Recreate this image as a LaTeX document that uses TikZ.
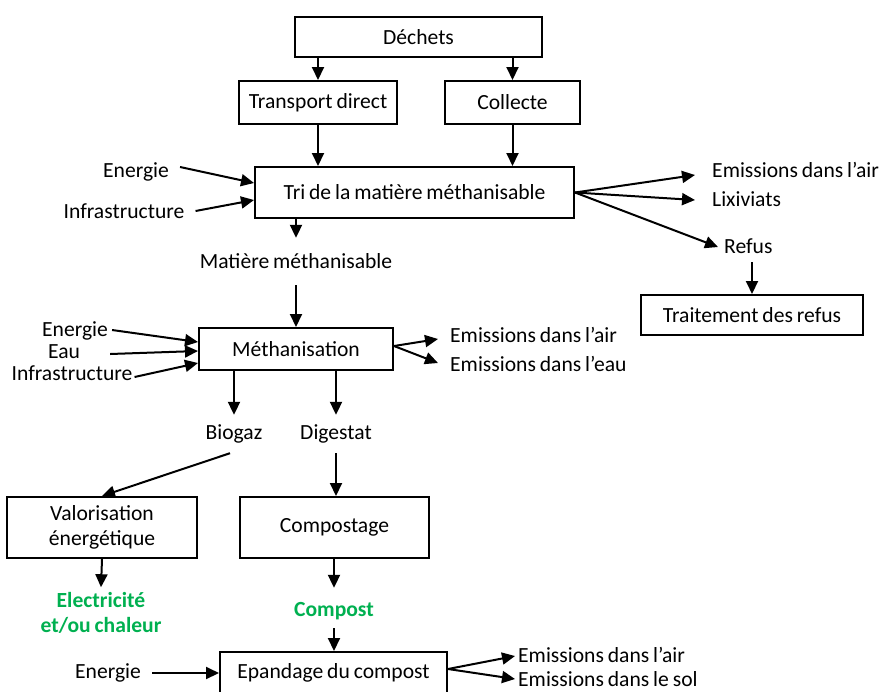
\documentclass[tikz,border=0pt]{standalone}
\usepackage{fontspec}
\setmainfont{Carlito}[WordSpace=0.8]
\usetikzlibrary{arrows.meta}
\definecolor{vert}{RGB}{0,176,80}
\begin{document}
\begin{tikzpicture}[x=1pt,y=-1pt,
  every node/.style={font=\fontsize{21.6}{25}\selectfont},
  box/.style={draw,line width=2pt,inner sep=0pt,align=center},
  lbl/.style={inner xsep=2pt,inner ysep=0pt,text height=14pt,text depth=4pt},
  green/.style={font=\fontsize{21.6}{25}\selectfont\bfseries,text=vert,align=center,inner sep=0pt},
  arr/.style={line width=2pt,-{Triangle[length=13pt,width=12pt]}}]
\useasboundingbox (0,0) rectangle (883,691);
\clip (0,0) rectangle (883,691);
% boxes
\node[box,minimum width=247pt,minimum height=40pt] (dechets) at (418.5,37) {Déchets};
\node[box,minimum width=158pt,minimum height=43pt] (transport) at (318,102.5) {Transport direct};
\node[box,minimum width=135pt,minimum height=43pt] (collecte) at (512.5,102.5) {Collecte};
\node[box,minimum width=319pt,minimum height=51pt] (tri) at (414.5,192.5) {Tri de la matière méthanisable};
\node[box,minimum width=222pt,minimum height=40pt] (trait) at (752,315) {Traitement des refus};
\node[box,minimum width=194pt,minimum height=42pt] (meth) at (296,349) {Méthanisation};
\node[box,minimum width=190pt,minimum height=61pt] (valor) at (102,527.5) {Valorisation\\énergétique};
\node[box,minimum width=189pt,minimum height=61pt] (compostage) at (334.5,527.5) {Compostage};
\node[box,minimum width=227pt,minimum height=42pt] (epand) at (333.5,673) {Epandage du compost};
% labels
\node[lbl] (energie1) at (136,172) {Energie};
\node[lbl] (infra1) at (124,213) {Infrastructure};
\node[lbl] (matiere) at (296,263) {Matière méthanisable};
\node[lbl,anchor=west] (emA1) at (710,172) {Emissions dans l’air};
\node[lbl,anchor=west] (lix) at (710,201) {Lixiviats};
\node[lbl,anchor=west] (refus) at (722,248) {Refus};
\node[lbl] (energie2) at (75,331) {Energie};
\node[lbl] (eau) at (64,353.5) {Eau};
\node[lbl] (infra2) at (72,375) {Infrastructure};
\node[lbl,anchor=west] (emA2) at (448,337) {Emissions dans l’air};
\node[lbl,anchor=west] (emW) at (448,366) {Emissions dans l’eau};
\node[lbl] (biogaz) at (234,434) {Biogaz};
\node[lbl] (digestat) at (336,434) {Digestat};
\node[green] (elec) at (101,613) {Electricité\\et/ou chaleur};
\node[green,lbl] (compost) at (334,611) {Compost};
\node[lbl] (energie3) at (108,673) {Energie};
\node[lbl,anchor=west] (emA3) at (516,657) {Emissions dans l’air};
\node[lbl,anchor=west] (emS) at (516,681) {Emissions dans le sol};
% connectors
\draw[arr] (dechets.south -| transport.north) -- (transport.north);
\draw[arr] (dechets.south -| collecte.north) -- (collecte.north);
\draw[arr] (transport.south) -- (transport.south |- tri.north);
\draw[arr] (collecte.south) -- (collecte.south |- tri.north);
\draw[arr] ([xshift=9pt,yshift=5pt]energie1.east) -- ([yshift=9.5pt]tri.west);
\draw[arr] ([xshift=9pt,yshift=2pt]infra1.east) -- ([yshift=-7.5pt]tri.west);
\draw[arr] (tri.east) -- ([xshift=-15pt,yshift=-3pt]emA1.west);
\draw[arr] (tri.east) -- ([xshift=-15pt,yshift=1pt]lix.west);
\draw[arr] (tri.east) -- ([xshift=-4pt,yshift=1pt]refus.west);
\draw[arr] ([yshift=-5pt]refus.south -| trait.north) -- (trait.north);
\draw[arr] (tri.south -| matiere.north) -- ([yshift=16pt]matiere.north);
\draw[arr] ([yshift=-13pt]matiere.south) -- (matiere.south |- meth.north);
\draw[arr] ([xshift=2pt,yshift=1pt]energie2.east) -- ([yshift=7pt]meth.west);
\draw[arr] ([xshift=28pt,yshift=-0.5pt]eau.east) -- ([yshift=-2pt]meth.west);
\draw[arr] ([yshift=-2pt]infra2.east) -- ([yshift=-14pt]meth.west);
\draw[arr] ([yshift=3pt]meth.east) -- ([xshift=-10pt,yshift=-2pt]emA2.west);
\draw[arr] ([yshift=3pt]meth.east) -- ([xshift=-10pt,yshift=3pt]emW.west);
\draw[arr] (meth.south -| biogaz.north) -- ([yshift=10pt]biogaz.north);
\draw[arr] (meth.south -| digestat.north) -- ([yshift=10pt]digestat.north);
\draw[arr] ([xshift=-4pt,yshift=-10pt]biogaz.south) -- (valor.north);
\draw[arr] ([yshift=-10pt]digestat.south) -- (digestat.south |- compostage.north);
\draw[arr] (valor.south) -- ([yshift=5pt]elec.north);
\draw[arr] (compostage.south -| compost.north) -- ([yshift=14pt]compost.north);
\draw[arr] ([yshift=-8pt]compost.south) -- (compost.south |- epand.north);
\draw[arr] ([xshift=9pt]energie3.east) -- (epand.west);
\draw[arr] ([yshift=4pt]epand.east) -- ([xshift=-1pt,yshift=1pt]emA3.west);
\draw[arr] ([yshift=4pt]epand.east) -- ([xshift=-1pt,yshift=2pt]emS.west);
\end{tikzpicture}
\end{document}
